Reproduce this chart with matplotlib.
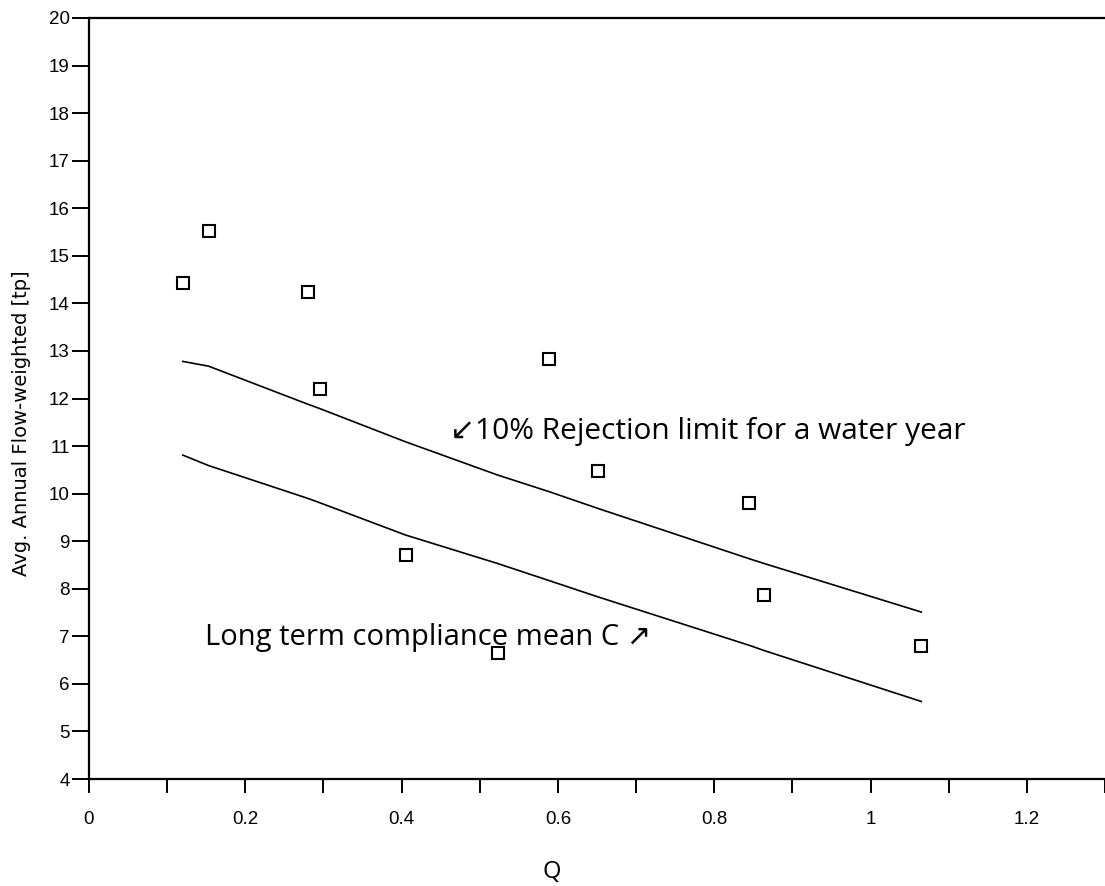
import matplotlib
matplotlib.use('Agg')
import matplotlib.pyplot as plt
from matplotlib.ticker import MultipleLocator

# observed water years
q_obs = [0.12, 0.153, 0.28, 0.295, 0.405, 0.523, 0.589, 0.651, 0.845, 0.864, 1.065]
tp_obs = [14.42, 15.52, 14.23, 12.19, 8.72, 6.64, 12.82, 10.47, 9.81, 7.87, 6.80]

# limit curves, evaluated at the observed Q
q_line = [0.12, 0.153, 0.28, 0.295, 0.405, 0.523, 0.589, 0.651, 0.845, 0.864, 1.065]
reject_limit = [12.78, 12.68, 11.88, 11.79, 11.09, 10.39, 10.04, 9.69, 8.63, 8.53, 7.51]
compliance_mean = [10.81, 10.59, 9.90, 9.81, 9.13, 8.53, 8.17, 7.83, 6.81, 6.70, 5.63]

x_ticks = [0, 0.2, 0.4, 0.6, 0.8, 1.0, 1.2]
x_tick_labels = ['0', '0.2', '0.4', '0.6', '0.8', '1', '1.2']
y_ticks = list(range(4, 21))

ANNOT_FONT = ['Open Sans', 'DejaVu Sans']

fig = plt.figure(figsize=(11.05, 8.86), dpi=100)
ax = fig.add_axes([89 / 1105, 1 - 779 / 886, 1 - 89 / 1105, (779 - 18) / 886])

ax.plot(q_line, reject_limit, color='black', lw=1.2)
ax.plot(q_line, compliance_mean, color='black', lw=1.2)
ax.plot(q_obs, tp_obs, linestyle='none', marker='s', markersize=8.5,
        markerfacecolor='white', markeredgecolor='black', markeredgewidth=1.5)

ax.set_xlim(0, 1.3)
ax.set_ylim(4, 20)
ax.set_xticks(x_ticks)
ax.set_xticklabels(x_tick_labels)
ax.xaxis.set_minor_locator(MultipleLocator(0.1))
ax.set_yticks(y_ticks)

ax.spines['right'].set_visible(False)
for s in ['left', 'bottom', 'top']:
    ax.spines[s].set_linewidth(1.6)

ax.tick_params(axis='both', which='both', direction='out', length=10, width=1.4,
               labelsize=13.5, pad=3)
ax.tick_params(axis='x', pad=13)
ax.tick_params(axis='y', length=12, pad=2)
for lbl in ax.get_xticklabels() + ax.get_yticklabels():
    lbl.set_family('Liberation Sans')

ax.set_ylabel('Avg. Annual Flow-weighted [tp]', fontsize=14, family='DejaVu Sans')
ax.yaxis.set_label_coords(-0.057, 0.468)
ax.set_xlabel('Q', fontsize=17, family=ANNOT_FONT)
ax.xaxis.set_label_coords(0.455, -0.106)

ax.text(0.462, 11.31, '\u219910% Rejection limit for a water year', fontsize=21.5,
        family=ANNOT_FONT, ha='left', va='center')
ax.text(0.148, 6.97, 'Long term compliance mean C \u2197', fontsize=21,
        family=ANNOT_FONT, ha='left', va='center')

fig.savefig('out.png', dpi=100)
